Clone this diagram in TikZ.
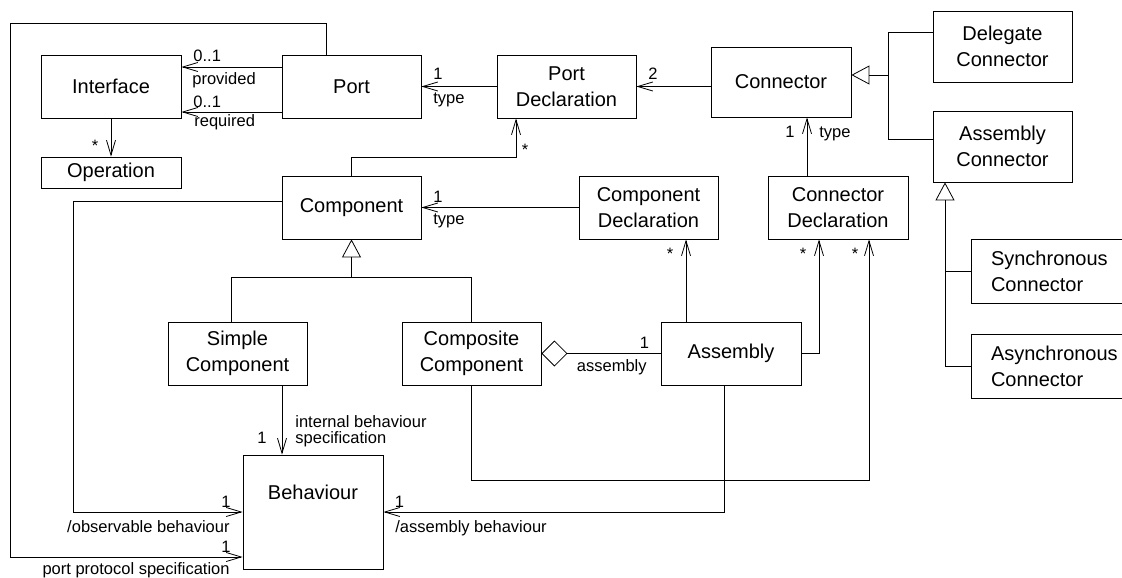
\documentclass[tikz,border=0pt]{standalone}
\usepackage{fontspec}
\setmainfont{Liberation Sans}
\usetikzlibrary{arrows.meta}
\begin{document}
\begin{tikzpicture}[x=1pt, y=-1pt, line width=0.8pt,
  boxfont/.style={font=\fontsize{20}{26}\selectfont},
  cls/.style={draw, boxfont, align=center, inner sep=2pt,
              minimum width=140, minimum height=63},
  lbl/.style={font=\fontsize{16.5}{17}\selectfont, inner sep=0pt},
  nav/.style={-{Straight Barb[length=15pt, width=9pt]}},
  gen/.style={-{Triangle[open, length=18pt, width=19pt]}},
  agg/.style={-{Diamond[open, length=26pt, width=26pt]}}]

\useasboundingbox (0,0) rectangle (1122,578);
\clip (0,0) rectangle (1122,578);

% classes
\node[cls] (iface) at (111,86.5) {Interface};
\node[cls, minimum height=31] (oper) at (111,172.5) {Operation};
\node[cls, minimum width=139] (port) at (351.5,86.5) {Port};
\node[cls, minimum width=139] (pdecl) at (566.5,86.5) {Port\\Declaration};
\node[cls, minimum height=70] (conn) at (781,82) {Connector};
\node[cls, minimum width=139, minimum height=71] (deleg) at (1002.5,46.5) {Delegate\\Connector};
\node[cls, minimum width=139, minimum height=71] (asmconn) at (1002.5,146.5) {Assembly\\Connector};
\node[cls, minimum width=139] (comp) at (351.5,207.5) {Component};
\node[cls, minimum width=139] (compdecl) at (648.5,207.5) {Component\\Declaration};
\node[cls] (conndecl) at (838,207.5) {Connector\\Declaration};
\node[cls, minimum width=139] (simple) at (237.5,353.5) {Simple\\Component};
\node[cls, minimum width=139] (composite) at (471.5,353.5) {Composite\\Component};
\node[cls] (assembly) at (731,353.5) {Assembly};
\node[cls, minimum height=114,
      label={[boxfont, yshift=19.5pt]center:Behaviour}] (behav) at (313,512) {};
\node[cls, minimum width=180, minimum height=64, align=left,
      text width=140, inner xsep=20pt] (sync) at (1061,271) {Synchronous\\Connector};
\node[cls, minimum width=180, minimum height=64, align=left,
      text width=140, inner xsep=20pt] (async) at (1061,366.5) {Asynchronous\\Connector};

% Port -> Interface
\draw[nav] ([yshift=19.5pt]port.west) -- ([yshift=19.5pt]iface.east);
\draw[nav] ([yshift=-25.5pt]port.west) -- ([yshift=-25.5pt]iface.east);
\node[lbl, anchor=base west] at (193,62) {0..1};
\node[lbl, anchor=base west] at (192,84.5) {provided};
\node[lbl, anchor=base west] at (193,107) {0..1};
\node[lbl, anchor=base west] at (194,126.5) {required};

% Interface -> Operation
\draw[nav] (iface.south) -- (oper.north);
\node[lbl, anchor=base] at (95,151.5) {*};

% Port -> Behaviour (port protocol specification)
\draw[nav] ([xshift=-25.5pt]port.north) |- (10,23) |- ([yshift=-45pt]behav.west);
\node[lbl, anchor=base] at (226,552) {1};
\node[lbl, anchor=base east] at (230,574) {port protocol specification};

% Component -> Behaviour (observable behaviour)
\draw[nav] ([yshift=6.5pt]comp.west) -| (73,512) -- (behav.west);
\node[lbl, anchor=base] at (226,507) {1};
\node[lbl, anchor=base east] at (230,532) {/observable behaviour};

% Simple Component -> Behaviour
\draw[nav] ([xshift=44.5pt]simple.south) -- ([xshift=44.5pt]simple.south |- behav.north);
\node[lbl, anchor=base] at (262,443) {1};
\node[lbl, anchor=base west] at (295,427) {internal behaviour};
\node[lbl, anchor=base west] at (295,443) {specification};

% Component specialisations
\draw[gen] ([xshift=-6.5pt]simple.north) |- (351.5,277) -- (comp.south);
\draw (composite.north) |- (351.5,277);

% Component -> Port Declaration
\draw[nav] (comp.north) |- (516,157) -- ([xshift=-50.5pt]pdecl.south);
\node[lbl, anchor=base] at (525,155.5) {*};

% Port Declaration -> Port
\draw[nav] (pdecl.west) -- (port.east);
\node[lbl, anchor=base] at (438,80) {1};
\node[lbl, anchor=base] at (449,103.5) {type};

% Connector -> Port Declaration
\draw[nav] (conn.west |- pdecl.east) -- (pdecl.east);
\node[lbl, anchor=base] at (653,80) {2};

% Connector specialisations
\draw ([yshift=14.5pt]deleg.west) -| (888,139) -- ([yshift=7.5pt]asmconn.west);
\draw[gen] (888,75) -- (conn.east |- 888,75);

% Connector Declaration -> Connector
\draw[nav] ([xshift=-31pt]conndecl.north) -- ([xshift=-31pt]conndecl.north |- conn.south);
\node[lbl, anchor=base] at (790,137) {1};
\node[lbl, anchor=base west] at (819,137) {type};

% Component Declaration -> Component
\draw[nav] (compdecl.west) -- (compdecl.west -| comp.east);
\node[lbl, anchor=base] at (438,202) {1};
\node[lbl, anchor=base] at (449,224) {type};

% Assembly -> Component Declaration
\draw[nav] ([xshift=-45pt]assembly.north) -- ([xshift=-45pt]assembly.north |- compdecl.south);
\node[lbl, anchor=base] at (670,259) {*};

% Assembly -> Connector Declaration
\draw[nav] (assembly.east) -| ([xshift=-19pt]conndecl.south);
\node[lbl, anchor=base] at (803,259) {*};

% Composite Component -> Connector Declaration
\draw[nav] ([xshift=-0.5pt]composite.south) |- (869,480) -- ([xshift=31pt]conndecl.south);
\node[lbl, anchor=base] at (855,259) {*};

% Assembly -> Behaviour
\draw[nav] ([xshift=-7pt]assembly.south) |- (behav.east);
\node[lbl, anchor=base] at (399.5,507) {1};
\node[lbl, anchor=base west] at (395,532) {/assembly behaviour};

% Composite Component <>- Assembly
\draw[agg] (assembly.west) -- (composite.east);
\node[lbl, anchor=base] at (644.5,348) {1};
\node[lbl, anchor=base east] at (647,371.5) {assembly};

% Assembly Connector specialisations
\draw[gen] (async.west) -| ([xshift=-57.5pt]asmconn.south);
\draw (sync.west) -- ++(-26,0);
\end{tikzpicture}
\end{document}
